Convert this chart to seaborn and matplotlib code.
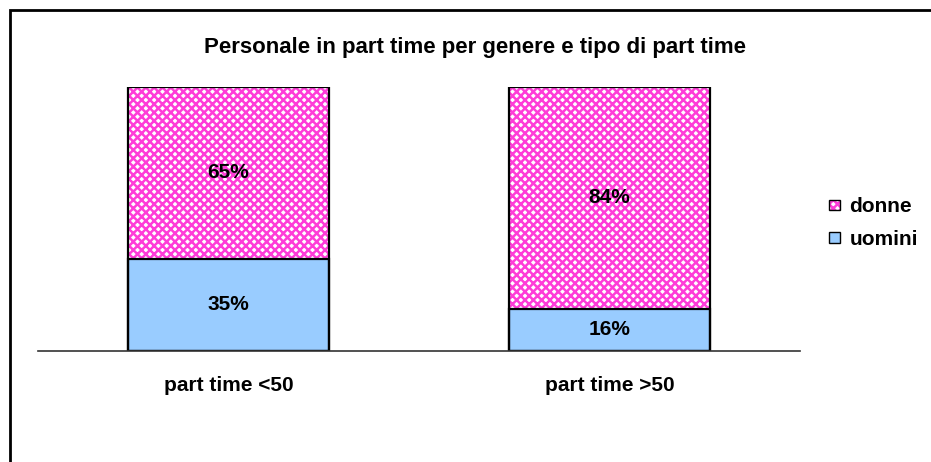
import matplotlib
matplotlib.use('Agg')
import matplotlib.pyplot as plt
import seaborn as sns
import pandas as pd
from matplotlib.patches import Rectangle, Patch
from matplotlib.legend_handler import HandlerTuple

# Dati
categorie = ['part time <50', 'part time >50']
uomini = [0.35, 0.16]
donne = [0.65, 0.84]
serie = ['donne', 'uomini']

sns.set_theme(style='white')
plt.rcParams['font.family'] = ['Liberation Sans', 'DejaVu Sans']
plt.rcParams['hatch.linewidth'] = 1.8
plt.rcParams['text.color'] = 'black'
plt.rcParams['xtick.color'] = 'black'

colore_uomini = '#99CCFF'
colore_donne = '#FF3CD8'

fig = plt.figure(figsize=(9.31, 4.62), dpi=100)
ax = fig.add_axes([38 / 931, (462 - 351) / 462, (800 - 38) / 931, (351 - 87) / 462])

totale = [u + d for u, d in zip(uomini, donne)]
df = pd.DataFrame({'categoria': categorie, 'uomini': uomini, 'donne': donne, 'totale': totale})

# barra totale (donne) con tratteggio rosa
sns.barplot(data=df, x='categoria', y='totale', ax=ax, color='white', width=0.53,
            edgecolor=colore_donne, linewidth=0, hatch='xxxx', saturation=1)
# barra uomini sopra
sns.barplot(data=df, x='categoria', y='uomini', ax=ax, color=colore_uomini, width=0.53,
            linewidth=0, saturation=1)
# bordi neri
sns.barplot(data=df, x='categoria', y='totale', ax=ax, fill=False, width=0.53,
            edgecolor='black', linewidth=1.6)
sns.barplot(data=df, x='categoria', y='uomini', ax=ax, fill=False, width=0.53,
            edgecolor='black', linewidth=1.6)

ax.set_xlim(-0.5, 1.5)
ax.set_ylim(0, 1)
for s in ['top', 'right', 'left']:
    ax.spines[s].set_visible(False)
ax.spines['bottom'].set_color('#333333')
ax.spines['bottom'].set_linewidth(1.2)
ax.set_yticks([])
ax.set_xlabel('')
ax.set_ylabel('')
ax.tick_params(axis='x', length=0, pad=18)
for lab in ax.get_xticklabels():
    lab.set_fontweight('bold')
    lab.set_fontsize(15)
    lab.set_color('black')

# etichette percentuali
for i in range(len(categorie)):
    ax.text(i, uomini[i] / 2, f'{uomini[i]:.0%}', ha='center', va='center',
            fontsize=15, fontweight='bold', color='black')
    ax.text(i, uomini[i] + donne[i] / 2, f'{donne[i]:.0%}', ha='center', va='center',
            fontsize=15, fontweight='bold', color='black')

# titolo
fig.text(475 / 931, 1 - 47 / 462, 'Personale in part time per genere e tipo di part time',
         ha='center', va='center', fontsize=16, fontweight='bold', color='black')

# legenda
h_donne = (Patch(facecolor='white', edgecolor=colore_donne, hatch='xxxx', linewidth=0),
           Patch(fill=False, edgecolor='black', linewidth=1))
h_uomini = Patch(facecolor=colore_uomini, edgecolor='black', linewidth=1)
leg = fig.legend([h_donne, h_uomini], serie, loc='center left',
                 bbox_to_anchor=(810 / 931, 1 - 223 / 462),
                 handler_map={tuple: HandlerTuple(ndivide=1, pad=0)},
                 frameon=False, prop={'weight': 'bold', 'size': 15},
                 handlelength=0.55, handleheight=0.4, handletextpad=0.45, labelspacing=0.65)
for t in leg.get_texts():
    t.set_color('black')

# cornice
fig.patches.append(Rectangle((9.5 / 931, -0.1), 1.0, 1 - 10.5 / 462 + 0.1,
                             transform=fig.transFigure, fill=False,
                             edgecolor='black', linewidth=2))

fig.savefig('out.png', dpi=100)
